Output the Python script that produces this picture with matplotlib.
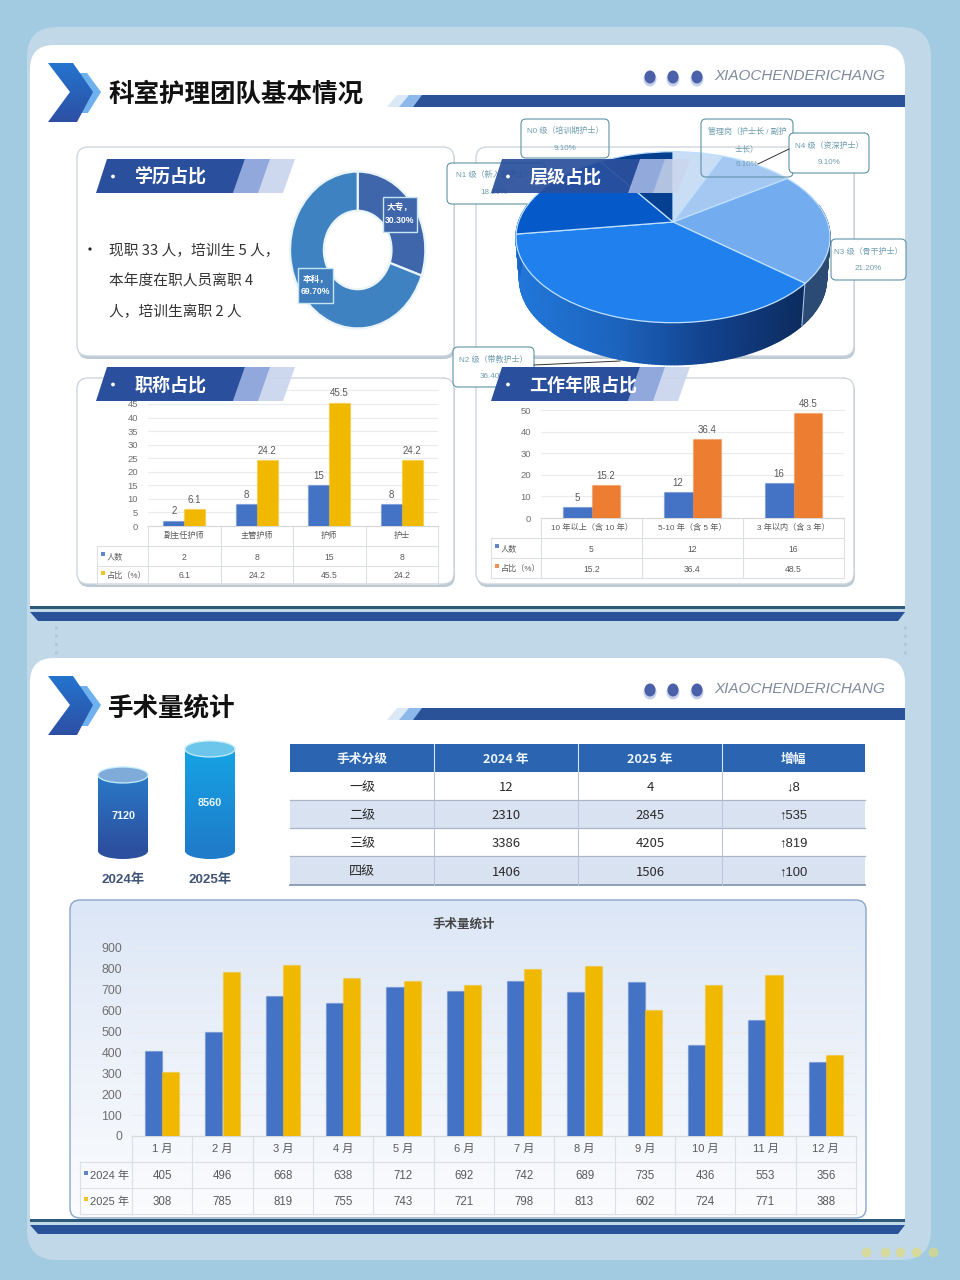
#!/usr/bin/env python3
"""Nursing team dashboard: two slide cards with pies, bars and tables."""

import matplotlib
matplotlib.use('Agg')
import matplotlib.pyplot as plt
import numpy as np
from matplotlib.collections import PolyCollection
from matplotlib.colors import LinearSegmentedColormap
from matplotlib.patches import Circle, Ellipse, FancyBboxPatch, Polygon, Rectangle
from matplotlib.transforms import Transform

plt.rcParams['font.family'] = ['Noto Sans CJK SC', 'DejaVu Sans']
NUM = ['Liberation Sans', 'Noto Sans CJK SC']

# full width comma and brackets
CM, LP, RP = '\uff0c', '\uff08', '\uff09'

# ============================================
# DATA
# ============================================

edu_labels = [f'大专{CM}\n30.30%', f'本科{CM}\n69.70%']
edu_values = [30.3, 69.7]

level_names = ['管理岗', 'N4', 'N3', 'N2', 'N1', 'N0']
level_values = [6.1, 9.1, 21.2, 36.4, 18.2, 9.1]

title_cats = ['副主任护师', '主管护师', '护师', '护士']
title_count = [2, 8, 15, 8]
title_share = [6.1, 24.2, 45.5, 24.2]

years_cats = [f'10 年以上{LP}含 10 年{RP}', f'5-10 年{LP}含 5 年{RP}', f'3 年以内{LP}含 3 年{RP}']
years_count = [5, 12, 16]
years_share = [15.2, 36.4, 48.5]
share_name = f'占比{LP}%{RP}'

total_years = ['2024年', '2025年']
total_values = [7120, 8560]

grade_header = ['手术分级', '2024 年', '2025 年', '增幅']
grade_rows = [
    ['一级', '12', '4', '↓8'],
    ['二级', '2310', '2845', '↑535'],
    ['三级', '3386', '4205', '↑819'],
    ['四级', '1406', '1506', '↑100'],
]

months = ['1 月', '2 月', '3 月', '4 月', '5 月', '6 月',
          '7 月', '8 月', '9 月', '10 月', '11 月', '12 月']
ops_2024 = [405, 496, 668, 638, 712, 692, 742, 689, 735, 436, 553, 356]
ops_2025 = [308, 785, 819, 755, 743, 721, 798, 813, 602, 724, 771, 388]

# ============================================
# CONFIGURATION
# ============================================

BLUE = '#4472c4'
YELLOW = '#f1b800'
ORANGE = '#ed7d31'
NAVY = '#2a5298'
PANEL = '#c0d8e7'
GREY = '#5a5a5a'
W, H = 960, 1280

fig = plt.figure(figsize=(W / 100, H / 100), dpi=100, facecolor='#a2cbe2')


def axes_px(x0, y0, x1, y1, zorder):
    ax = fig.add_axes([x0 / W, 1 - y1 / H, (x1 - x0) / W, (y1 - y0) / H], zorder=zorder)
    ax.patch.set_alpha(0)
    return ax


def overlay(zorder):
    ax = axes_px(0, 0, W, H, zorder)
    ax.set_xlim(0, W)
    ax.set_ylim(H, 0)
    ax.axis('off')
    return ax


bg = overlay(0)
pie3d = overlay(3)
fg = overlay(5)


def rounded(ax, x0, y0, x1, y1, r, **kw):
    p = FancyBboxPatch((x0, y0), x1 - x0, y1 - y0,
                       boxstyle=f'round,pad=0,rounding_size={r}', **kw)
    ax.add_patch(p)
    return p


def poly(ax, pts, color, **kw):
    ax.add_patch(Polygon(pts, closed=True, facecolor=color, edgecolor='none', **kw))


def gradient(ax, x0, y0, x1, y1, colors, clip=None, horizontal=False, zorder=1):
    cmap = LinearSegmentedColormap.from_list('g', colors)
    ramp = np.linspace(0, 1, 256)
    ramp = ramp[None, :] if horizontal else ramp[:, None]
    im = ax.imshow(ramp, cmap=cmap, extent=(x0, x1, y1, y0), aspect='auto',
                   interpolation='bilinear', zorder=zorder)
    if clip is not None:
        im.set_clip_path(clip)
    return im


def card(x0, y0, x1, y1):
    rounded(bg, x0 + 1, y0 + 3, x1 + 1, y1 + 3, 11, facecolor='#bcc8d2', edgecolor='none', zorder=3)
    rounded(bg, x0, y0, x1, y1, 11, facecolor='white', edgecolor='#cdd6df', linewidth=1, zorder=3)


def header(dy, title):
    # chevrons
    poly(bg, [(77, 73 + dy), (87, 73 + dy), (101, 92 + dy), (88, 113 + dy), (77, 113 + dy), (90, 92 + dy)],
         '#6fb0ee', zorder=5)
    chevron = Polygon([(48, 63 + dy), (73, 63 + dy), (93, 92 + dy), (77, 122 + dy), (48, 122 + dy), (70, 92 + dy)],
                      closed=True, facecolor='none', edgecolor='none', zorder=6)
    bg.add_patch(chevron)
    gradient(bg, 48, 63 + dy, 93, 122 + dy, ['#2474cf', '#2d4fa3'], clip=chevron, zorder=6)
    bg.text(108, 94.5 + dy, title, fontsize=18.4, fontweight='bold', color='#111111', va='center', zorder=6)
    # title stripe
    poly(bg, [(387, 107 + dy), (397, 95 + dy), (417, 95 + dy), (407, 107 + dy)], '#dbe9f7', zorder=5)
    poly(bg, [(399, 107 + dy), (409, 95 + dy), (430, 95 + dy), (420, 107 + dy)], '#8db9ea', zorder=5)
    poly(bg, [(413, 107 + dy), (422, 95 + dy), (905, 95 + dy), (905, 107 + dy)], NAVY, zorder=5)
    # dots and brand text
    for x in (650, 673, 697):
        bg.add_patch(Ellipse((x, 79 + dy), 13, 15, facecolor='#c5cfe8', edgecolor='none', zorder=5))
        bg.add_patch(Ellipse((x, 77 + dy), 11, 13, facecolor='#4a60a8', edgecolor='none', zorder=5))
    bg.text(714, 76 + dy, 'XIAOCHENDERICHANG', family='Liberation Sans', style='italic', fontsize=11,
            color='#7f8b9c', va='center', zorder=6)


def banner(x, y, title, ax=fg, alpha=1.0):
    # three slanted segments, x is the lower left corner
    top, bot = y, y + 34
    poly(ax, [(x + 137, bot), (x + 149, top), (x + 199, top), (x + 187, bot)], '#cbd6ee', alpha=alpha * 0.95, zorder=2)
    poly(ax, [(x + 137, bot), (x + 149, top), (x + 174, top), (x + 162, bot)], '#8ea6dc', alpha=alpha * 0.95, zorder=2)
    poly(ax, [(x, bot), (x + 11, top), (x + 149, top), (x + 137, bot)], '#2a4f9c', alpha=alpha, zorder=3)
    ax.add_patch(Circle((x + 17, y + 17.5), 1.9, facecolor='white', edgecolor='none', zorder=4))
    ax.text(x + 38.5, y + 18.5, title, fontsize=13, fontweight='bold', color='white', va='center', zorder=4)


def bar_chart(px, ymax, ticks, cats, names, series, colors, edges_y, label_x, fs, label_fs, squares=4):
    """Grouped bars with the data table under them. px = (left, top, right, bottom)."""
    x0, y0, x1, y1 = px
    ax = axes_px(x0, y0, x1, y1, 2)
    ax.set_xlim(-0.5, len(cats) - 0.5)
    ax.set_ylim(0, ymax)
    idx = np.arange(len(cats))
    width = 0.287
    for k, (vals, col) in enumerate(zip(series, colors)):
        off = (k - 0.5) * width
        bars = ax.bar(idx + off, vals, width, color=col, edgecolor=(col, 0.3), linewidth=1.0, zorder=3)
        if label_fs:
            ax.bar_label(bars, fmt='%g', padding=3, fontsize=label_fs, color=GREY, family=NUM)
    ax.set_yticks(list(ticks))
    ax.set_xticks([])
    ax.tick_params(axis='y', length=0, labelsize=fs, labelcolor='#707070', pad=7)
    for t in ax.get_yticklabels():
        t.set_family(NUM)
    ax.grid(axis='y', color='#e9ebef', linewidth=0.8)
    ax.axhline(ymax, color='#e9ebef', linewidth=0.8, clip_on=False)
    ax.set_axisbelow(True)
    for s in ('top', 'right', 'left'):
        ax.spines[s].set_visible(False)
    ax.spines['bottom'].set_color('#d8d8d8')

    # data table
    xs = np.linspace(x0, x1, len(cats) + 1)
    line = dict(color='#dcdfe3', linewidth=0.8, zorder=4)
    bg.plot([x0, x1], [edges_y[0]] * 2, **line)
    for e in edges_y[1:]:
        bg.plot([label_x, x1], [e, e], **line)
    for x in xs:
        bg.plot([x, x], [edges_y[0], edges_y[-1]], **line)
    bg.plot([label_x, label_x], [edges_y[1], edges_y[-1]], **line)
    mids = (xs[:-1] + xs[1:]) / 2
    rows = (np.array(edges_y[:-1]) + np.array(edges_y[1:])) / 2
    for m, c in zip(mids, cats):
        bg.text(m, rows[0], c, ha='center', va='center', fontsize=fs - 0.9, color=GREY, family=NUM, zorder=5)
    for r, name, vals, col in zip(rows[1:], names, series, colors):
        bg.add_patch(Rectangle((label_x + 4, r - 4), squares, squares, facecolor=col, edgecolor='none', alpha=0.85, zorder=5))
        bg.text(label_x + 10, r + 1, name, ha='left', va='center', fontsize=fs - 0.9, color=GREY, family=NUM, zorder=5)
        for m, v in zip(mids, vals):
            bg.text(m, r + 1, f'{v:g}', ha='center', va='center', fontsize=fs - 0.6, color=GREY, family=NUM, zorder=5)
    return ax


# ============================================
# PAGE BACKGROUND
# ============================================

rounded(bg, 27, 27, 931, 1260, 30, facecolor=PANEL, edgecolor='none', zorder=1)
rounded(bg, 30, 45, 905, 640, 24, facecolor='white', edgecolor='none', zorder=1.1)
bg.add_patch(Rectangle((28, 606), 879, 52, facecolor=PANEL, edgecolor='none', zorder=1.2))
rounded(bg, 30, 658, 905, 1238, 24, facecolor='white', edgecolor='none', zorder=1.3)
bg.add_patch(Rectangle((28, 1219), 879, 20, facecolor=PANEL, edgecolor='none', zorder=1.4))

for top in (606, 1219):
    bg.add_patch(Rectangle((30, top), 875, 2.6, facecolor='#2c5a78', edgecolor='none', zorder=2))
    poly(bg, [(30, top + 6), (905, top + 6), (898, top + 15), (38, top + 15)], NAVY, zorder=2)

# faint dotted joins between the two cards
for x in (56, 905):
    bg.plot([x, x], [626, 656], color='#adc8da', linewidth=2, linestyle=(0, (1, 2)), zorder=1.5)

header(0, '科室护理团队基本情况')
header(613, '手术量统计')

# ============================================
# FIRST CARD: SECTION FRAMES
# ============================================

card(77, 147, 454, 356)
card(476, 147, 854, 356)
card(77, 378, 454, 584)
card(476, 378, 854, 584)

banner(96, 159, '学历占比')

fg.add_patch(Circle((90, 249), 1.6, facecolor='#222222', edgecolor='none'))
note_lines = [f'现职 33 人{CM}培训生 5 人{CM}', '本年度在职人员离职 4', f'人{CM}培训生离职 2 人']
for y, line in zip((251, 281, 312), note_lines):
    fg.text(109, y, line, fontsize=10.6, color='#333333', va='center')

# ============================================
# DONUT
# ============================================

dn = axes_px(288.7, 170, 426.7, 330, 2)
dn.pie(edu_values, startangle=90, counterclock=False, radius=1, colors=['#3f66aa', '#3f82c1'],
       wedgeprops=dict(width=0.5, edgecolor='#e8f3fa', linewidth=1.6))
dn.set_aspect('auto')
dn.set_xlim(-1.02, 1.02)
dn.set_ylim(-1.02, 1.02)

for (x0, y0, x1, y1), text, col in zip([(383, 197, 417, 232), (298, 268, 333, 303)], edu_labels, ['#3f66aa', '#3f7cbc']):
    fg.add_patch(Rectangle((x0, y0), x1 - x0, y1 - y0, facecolor=col, edgecolor='#c4e4f2', linewidth=1))
    fg.text((x0 + x1) / 2, (y0 + y1) / 2, text, color='white', fontsize=6.2, fontweight='bold',
            ha='center', va='center', linespacing=1.5, family=NUM)

# ============================================
# 3D PIE
# ============================================


class PieProjection(Transform):
    """Perspective tilt of the unit pie onto page pixels."""
    input_dims = 2
    output_dims = 2
    is_separable = False
    has_inverse = False

    def __init__(self, cx, cy, a, b, p):
        super().__init__()
        self.cx, self.cy, self.a, self.b, self.p = cx, cy, a, b, p

    def transform_non_affine(self, values):
        xy = np.asarray(values, dtype=float)
        den = 1 + self.p * xy[:, 1]
        return np.column_stack([self.cx + self.a * xy[:, 0] / den,
                                self.cy - self.b * xy[:, 1] / den])


top_proj = PieProjection(673, 222, 154.5, 82.8, 0.1777)
low_proj = PieProjection(673, 264, 151, 82.8, 0.1777)


def rim(proj, deg):
    t = np.radians(deg)
    return proj.transform_non_affine(np.column_stack([np.sin(t), np.cos(t)]))


# side wall, one thin strip per step of angle, split where the slices change
bounds = np.cumsum([0] + level_values) * 3.6
wall_cmap = LinearSegmentedColormap.from_list('wall', ['#0c2b5c', '#12408a', '#1c63bd', '#2176d8'])
strips, strip_cols = [], []
for start, end, name in zip(bounds[:-1], bounds[1:], level_names):
    lo, hi = max(start, 78), min(end, 282)
    if lo >= hi:
        continue
    ang = np.linspace(lo, hi, int(hi - lo) + 2)
    a, b = rim(top_proj, ang), rim(low_proj, ang)
    for i in range(len(ang) - 1):
        strips.append([a[i], a[i + 1], b[i + 1], b[i]])
        mid = (a[i, 0] + a[i + 1, 0]) / 2
        if name == 'N3':
            strip_cols.append('#2b4a74')
        elif name == 'N1':
            strip_cols.append('#1b63c4')
        else:
            strip_cols.append(wall_cmap(np.clip((810 - mid) / 290, 0, 1)))
pie3d.add_collection(PolyCollection(strips, facecolors=strip_cols, edgecolors=strip_cols, linewidths=1.0, zorder=1))
seam = bounds[3]
pie3d.plot(*np.vstack([rim(top_proj, seam), rim(low_proj, seam)]).T, color='#9fb9d8', linewidth=0.9, zorder=2)

wedges, _ = pie3d.pie(level_values, startangle=90, counterclock=False,
                      colors=['#c9ddf5', '#a5c8f3', '#74acf0', '#2080ee', '#0659c8', '#04408f'],
                      wedgeprops=dict(edgecolor='#bfe0ff', linewidth=0.9))
for w in wedges:
    w.set_transform(top_proj + pie3d.transData)
    w.set_zorder(3)
pie3d.set_aspect('auto')
pie3d.set_xlim(0, W)
pie3d.set_ylim(H, 0)
pie3d.axis('off')

# ============================================
# PIE CALLOUTS
# ============================================


def callout(ax, x0, y0, x1, y1, lines, ys, fill='none', cx=None, z=1):
    rounded(ax, x0, y0, x1, y1, 5, facecolor=fill, edgecolor='#5e93a6', linewidth=0.8, zorder=z)
    cx = (x0 + x1) / 2 if cx is None else cx
    for t, y in zip(lines, ys):
        ax.text(cx, y, t, fontsize=5.8, color='#6f9db0', ha='center', va='center', family=NUM, zorder=z + 0.5)


callout(bg, 447, 163, 545, 204, [f'N1 级{LP}新入职护士{RP}', '18.20%'], [175, 192], fill='white', cx=494, z=4)
callout(fg, 521, 119, 609, 158, [f'N0 级{LP}培训期护士{RP}', '9.10%'], [131, 148])
callout(fg, 701, 119, 793, 177, [f'管理岗{LP}护士长 / 副护', f'士长{RP}', '6.10%'], [132, 149, 164])
callout(fg, 789, 133, 869, 173, [f'N4 级{LP}资深护士{RP}', '9.10%'], [146, 162], fill='white')
callout(fg, 831, 239, 906, 280, [f'N3 级{LP}骨干护士{RP}', '21.20%'], [252, 268], fill='white')
callout(fg, 453, 347, 534, 387, [f'N2 级{LP}带教护士{RP}', '36.40%'], [360, 377], fill='white')
fg.plot([789, 758], [149, 164], color='#333333', linewidth=0.7, zorder=1.2)
fg.plot([534, 620], [365, 361], color='#333333', linewidth=0.7, zorder=1.2)

banner(491, 159, '层级占比', alpha=0.93)
banner(491, 367, '工作年限占比')
banner(96, 367, '职称占比')

# ============================================
# SMALL BAR CHARTS
# ============================================

bar_chart((148, 390.4, 438, 526), 50, range(0, 50, 5), title_cats, ['人数', share_name],
          [title_count, title_share], [BLUE, YELLOW], [526, 546, 566, 584], 97, 6.8, 7)
bar_chart((541, 410, 844, 518), 50, range(0, 60, 10), years_cats, ['人数', share_name],
          [years_count, years_share], [BLUE, ORANGE], [518, 538, 558, 578], 491, 6.8, 7)

# ============================================
# CYLINDERS
# ============================================

CYL_BASE = 2912
cyl = axes_px(90, 735, 245, 860, 2)
cyl.set_xlim(90, 245)
cyl.set_ylim(2414, 9335)
cyl.axis('off')
RY = 443
cyl_styles = [(['#2a7ac8', '#2c4f9e'], '#7fabd8'), (['#15a4e4', '#1f7ccb'], '#6cc6ec')]
for xc, val, year, (grad, cap) in zip((123, 210), total_values, total_years, cyl_styles):
    cyl.add_patch(Ellipse((xc, CYL_BASE), 50, 2 * RY, facecolor=grad[1], edgecolor='none', zorder=1))
    body = cyl.bar(xc, val - CYL_BASE, 50, bottom=CYL_BASE, facecolor='none', edgecolor='none')[0]
    im = gradient(cyl, xc - 25, val, xc + 25, CYL_BASE, grad, zorder=2)
    im.set_extent((xc - 25, xc + 25, CYL_BASE, val))
    im.set_clip_path(body)
    cyl.add_patch(Ellipse((xc, val), 50, 2 * RY, facecolor=cap, edgecolor='#c4ecfb', linewidth=0.9, zorder=3))
    cyl.text(xc, (val + CYL_BASE) / 2 - 170, str(val), color='#eaf7ff', fontsize=7.8, fontweight='bold',
             ha='center', va='center', family=NUM, zorder=4)
    fg.text(xc, 879.5, year, color='#3f5476', fontsize=9.6, fontweight='bold', ha='center', va='center', family=NUM)
cyl.set_xlim(90, 245)
cyl.set_ylim(2414, 9335)

# ============================================
# GRADE TABLE
# ============================================

col_x = [290, 434, 578, 722, 865]
row_y = [744, 772, 800, 828, 856, 885]
bg.add_patch(Rectangle((col_x[0], row_y[0]), col_x[-1] - col_x[0], row_y[1] - row_y[0],
                       facecolor='#2b64b0', edgecolor='none', zorder=3))
for i in range(4):
    bg.text((col_x[i] + col_x[i + 1]) / 2, (row_y[0] + row_y[1]) / 2 + 1.5, grade_header[i], color='#eef6ff',
            fontsize=9.2, fontweight='bold', ha='center', va='center', zorder=4)
for r, cells in enumerate(grade_rows):
    top, bot = row_y[r + 1], row_y[r + 2]
    bg.add_patch(Rectangle((col_x[0], top), col_x[-1] - col_x[0], bot - top,
                           facecolor='#d9e2f1' if r % 2 else 'white', edgecolor='none', zorder=3))
    bg.plot([col_x[0], col_x[-1]], [bot, bot], color='#aab6c8' if r < 3 else '#8799b2',
            linewidth=0.9 if r < 3 else 1.3, zorder=4)
    for c, text in enumerate(cells):
        fam = NUM if c == 3 else None
        bg.text((col_x[c] + col_x[c + 1]) / 2, (top + bot) / 2 + 1.5, text, color='#2a2a2a', fontsize=9.4,
                ha='center', va='center', zorder=4, family=fam)
for x in col_x[1:-1]:
    bg.plot([x, x], [row_y[0], row_y[1]], color='#d5e4f5', linewidth=0.8, zorder=4)
    bg.plot([x, x], [row_y[1], row_y[-1]], color='#b9c5d8', linewidth=0.7, zorder=4)

# ============================================
# MONTHLY CHART
# ============================================

box = rounded(bg, 70, 900, 866, 1218, 10, facecolor='none', edgecolor='#8aa5cc', linewidth=1, zorder=3)
gradient(bg, 70, 900, 866, 1218, ['#dbe6f6', '#edf2fa', '#fbfcfe'], clip=box, zorder=2)
bg.text(464, 924, '手术量统计', fontsize=9, fontweight='bold', color='#444444', ha='center', va='center', zorder=4)
bar_chart((132, 948, 856, 1136), 900, range(0, 1000, 100), months, ['2024 年', '2025 年'],
          [ops_2024, ops_2025], [BLUE, YELLOW], [1136, 1162, 1188, 1214], 80, 8.9, 0)

# faint watermark smudges in the corner
for x in (866, 885, 900, 916, 933):
    bg.plot(x, 1252, 'o', color='#e8dc6a', markersize=7, markeredgewidth=0, alpha=0.6, zorder=2)

bg.set_xlim(0, W)
bg.set_ylim(H, 0)
fig.savefig('out.png', dpi=100, facecolor=fig.get_facecolor())
